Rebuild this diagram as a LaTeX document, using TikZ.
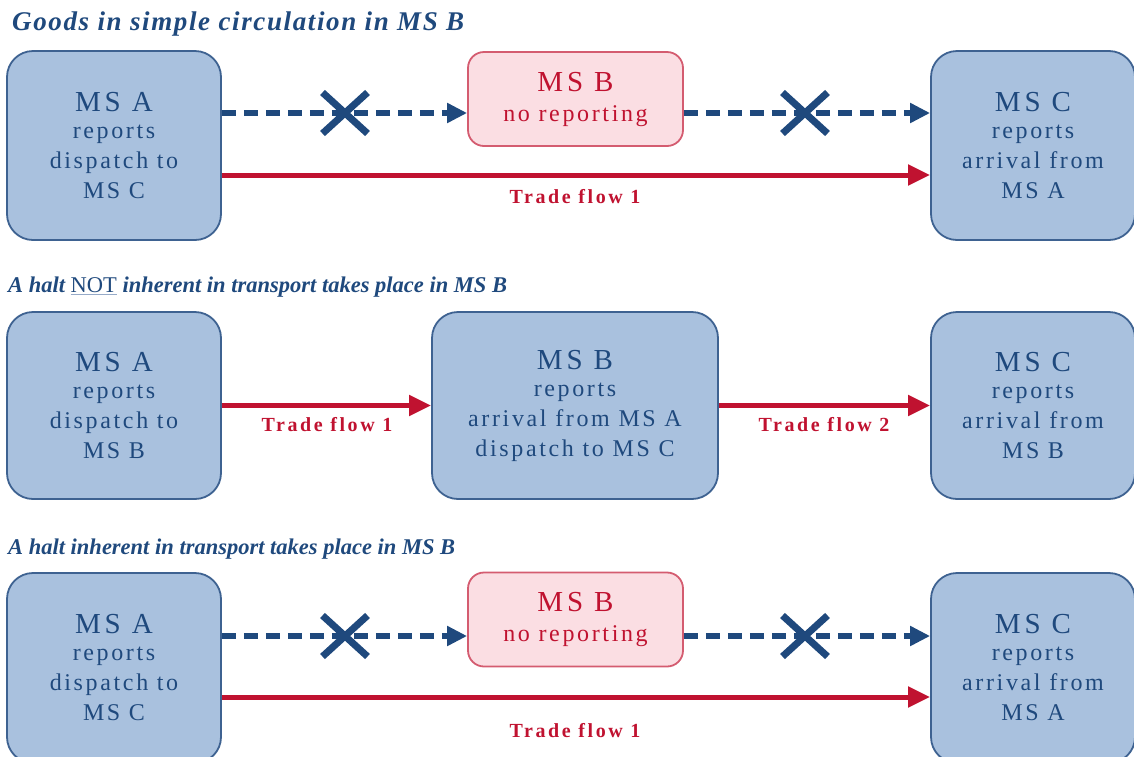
\documentclass[tikz,border=0pt]{standalone}
\usepackage{fontspec}
\setmainfont{Liberation Serif}
\newfontfamily\boxfont{Liberation Serif}[LetterSpace=11]
\newfontfamily\headfont{Liberation Serif}[LetterSpace=13]
\newfontfamily\flowfont{Liberation Serif}[LetterSpace=13]
\newfontfamily\titlefont{Liberation Serif}[LetterSpace=6]
\newfontfamily\titlefontb{Liberation Serif}[LetterSpace=0]
\usetikzlibrary{arrows.meta,shapes.misc}

\definecolor{boxfill}{RGB}{169,193,222}
\definecolor{boxline}{RGB}{62,98,145}
\definecolor{navy}{RGB}{31,73,125}
\definecolor{flowred}{RGB}{192,18,48}
\definecolor{pinkfill}{RGB}{251,222,227}
\definecolor{pinkline}{RGB}{212,92,112}
\definecolor{ulgrey}{RGB}{150,170,200}

\newcommand{\msname}[1]{{\headfont\fontsize{29}{30}\selectfont #1}}

\tikzset{
  msbox/.style={draw=boxline, fill=boxfill, line width=1.8pt, rounded corners=26pt,
    inner sep=0pt, align=center, text=navy,
    font=\boxfont\fontsize{24}{30}\selectfont},
  nobox/.style={draw=pinkline, fill=pinkfill, line width=1.8pt, rounded corners=16pt,
    inner sep=0pt, align=center, text=flowred,
    minimum width=215pt, minimum height=94pt,
    font=\boxfont\fontsize{24}{33}\selectfont},
  dasharrow/.style={draw=navy, line width=6pt, dash pattern=on 14pt off 8pt,
    -{Triangle[length=20pt,width=19pt]}},
  flowarrow/.style={draw=flowred, line width=5pt, -{Triangle[length=22pt,width=20pt]}},
  flowlabel/.style={text=flowred, font=\flowfont\bfseries\fontsize{20}{22}\selectfont},
  crossmark/.style={cross out, draw=navy, line width=7pt, minimum width=38pt,
    minimum height=34pt, inner sep=0pt},
  heading/.style={anchor=west, text=navy, inner sep=0pt,
    font=\titlefont\bfseries\itshape\fontsize{27}{30}\selectfont},
  headingb/.style={anchor=west, text=navy, inner sep=0pt,
    font=\titlefontb\bfseries\itshape\fontsize{22.5}{28}\selectfont}
}

\begin{document}
\begin{tikzpicture}[x=1pt,y=-1pt]
\useasboundingbox (0,0) rectangle (1134,756);
\clip (0,0) rectangle (1134,756);

% ---------- case 1: simple circulation ----------
\node[heading] (t1) at (12,24) {Goods in simple circulation in MS B};
\node[msbox, minimum width=214pt, minimum height=189pt] (a1) at (114,145.5)
  {\msname{MS A}\\[-3pt]reports\\dispatch to\\MS C};
\node[nobox] (b1) at (575.5,99) {\msname{MS B}\\[-3pt]no reporting};
\node[msbox, minimum width=204pt, minimum height=189pt] (c1) at (1033,145.5)
  {\msname{MS C}\\[-3pt]reports\\arrival from\\MS A};

\coordinate (a1d) at (a1.east |- 0,113);
\coordinate (b1dw) at (b1.west |- 0,113);
\coordinate (b1de) at (b1.east |- 0,113);
\coordinate (c1d) at (c1.west |- 0,113);
\draw[dasharrow] (a1d) -- (b1dw);
\draw[dasharrow] (b1de) -- (c1d);
\node[crossmark] (x1) at (345,113) {};
\node[crossmark] (x2) at (805,113) {};

\coordinate (a1r) at (a1.east |- 0,175);
\coordinate (c1r) at (c1.west |- 0,175);
\draw[flowarrow] (a1r) -- (c1r);
\node[flowlabel] (f1) at (575,197) {Trade flow 1};

% ---------- case 2: halt not inherent in transport ----------
\node[headingb] (t2) at (8,287) {A halt {\color{ulgrey}\underline{\color{navy}\upshape\mdseries NOT}} inherent in transport takes place in MS B};
\node[msbox, minimum width=214pt, minimum height=187pt] (a2) at (114,405.5)
  {\msname{MS A}\\[-3pt]reports\\dispatch to\\MS B};
\node[msbox, minimum width=286pt, minimum height=187pt] (b2) at (575,405.5)
  {\msname{MS B}\\[-3pt]reports\\arrival from MS A\\dispatch to MS C};
\node[msbox, minimum width=204pt, minimum height=187pt] (c2) at (1033,405.5)
  {\msname{MS C}\\[-3pt]reports\\arrival from\\MS B};
\draw[flowarrow] (a2.east) -- (b2.west);
\draw[flowarrow] (b2.east) -- (c2.west);
\node[flowlabel] (f2) at (327,425) {Trade flow 1};
\node[flowlabel] (f3) at (824,425) {Trade flow 2};

% ---------- case 3: halt inherent in transport ----------
\node[headingb] (t3) at (8,549) {A halt inherent in transport takes place in MS B};
\node[msbox, minimum width=214pt, minimum height=190pt] (a3) at (114,668)
  {\msname{MS A}\\[-3pt]reports\\dispatch to\\MS C};
\node[nobox] (b3) at (575.5,619.5) {\msname{MS B}\\[-3pt]no reporting};
\node[msbox, minimum width=204pt, minimum height=190pt] (c3) at (1033,668)
  {\msname{MS C}\\[-3pt]reports\\arrival from\\MS A};

\coordinate (a3d) at (a3.east |- 0,636);
\coordinate (b3dw) at (b3.west |- 0,636);
\coordinate (b3de) at (b3.east |- 0,636);
\coordinate (c3d) at (c3.west |- 0,636);
\draw[dasharrow] (a3d) -- (b3dw);
\draw[dasharrow] (b3de) -- (c3d);
\node[crossmark] (x3) at (345,636) {};
\node[crossmark] (x4) at (805,636) {};

\coordinate (a3r) at (a3.east |- 0,697);
\coordinate (c3r) at (c3.west |- 0,697);
\draw[flowarrow] (a3r) -- (c3r);
\node[flowlabel] (f4) at (575,731) {Trade flow 1};
\end{tikzpicture}
\end{document}
